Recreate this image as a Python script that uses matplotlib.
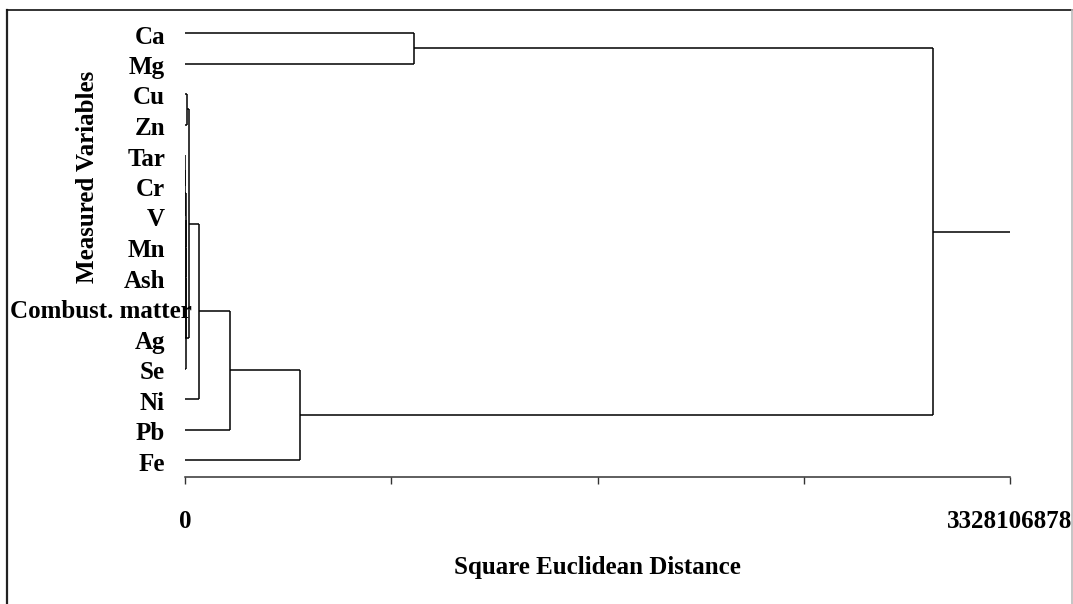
import matplotlib
matplotlib.use("Agg")
import matplotlib.pyplot as plt
import matplotlib.transforms as mtransforms
from matplotlib.lines import Line2D

# leaves in display order, top to bottom
variables = ["Ca", "Mg", "Cu", "Zn", "Tar", "Cr", "V", "Mn", "Ash",
             "Combust. matter", "Ag", "Se", "Ni", "Pb", "Fe"]

# agglomeration steps: (cluster a, cluster b, square euclidean distance)
# leaves are 0..14, each merge gets the next id starting at 15
merge_a = [4, 15, 16, 17, 18, 19, 20, 2, 22, 23, 24, 25, 0, 27]
merge_b = [5, 6, 7, 8, 9, 10, 11, 3, 21, 12, 13, 14, 1, 26]
merge_dist = [1.2e6, 1.8e6, 2.4e6, 3.0e6, 3.5e6, 4.1e6, 4.7e6,
              7.0e6, 1.6e7, 5.65e7, 1.82e8, 4.64e8, 9.24e8, 3.018e9]

dist_max = 3328106878
x_ticks = [0, dist_max * 0.25, dist_max * 0.5, dist_max * 0.75, dist_max]
x_ticklabels = ["0", "", "", "", "3328106878"]

plt.rcParams["font.family"] = ["Liberation Serif", "DejaVu Serif"]
plt.rcParams["font.weight"] = "bold"
FS = 18

W, H = 1073, 604
fig = plt.figure(figsize=(W / 100, H / 100), dpi=100)

# axes box in pixels: x 185..1010, y 10..477 (from top)
ax = fig.add_axes([185 / W, (H - 477) / H, (1010 - 185) / W, (477 - 10) / H])

pos = {i: float(i) for i in range(len(variables))}
height = {i: 0.0 for i in range(len(variables))}

lw = 1.1
for k, (a, b, d) in enumerate(zip(merge_a, merge_b, merge_dist)):
    new_id = len(variables) + k
    for c in (a, b):
        ax.plot([height[c], d], [pos[c], pos[c]], color="black", lw=lw,
                solid_capstyle="butt")
    ax.plot([d, d], [pos[a], pos[b]], color="black", lw=lw,
            solid_capstyle="butt")
    pos[new_id] = (pos[a] + pos[b]) / 2
    height[new_id] = d

# root stub runs out to the end of the axis
root = len(variables) + len(merge_dist) - 1
ax.plot([height[root], dist_max], [pos[root], pos[root]], color="black",
        lw=lw, solid_capstyle="butt")

# leaf i sits at pixel 33 + 30.5 * i
ax.set_ylim((477 - 33) / 30.5, (10 - 33) / 30.5)
ax.set_xlim(0, dist_max)
ax.set_yticks([])

for side in ("top", "right", "left"):
    ax.spines[side].set_visible(False)
ax.spines["bottom"].set_color("#333333")
ax.spines["bottom"].set_linewidth(1.1)

ax.set_xticks(x_ticks)
ax.set_xticklabels(x_ticklabels, fontsize=FS, fontweight="bold")
ax.tick_params(axis="x", direction="out", length=5, width=1, pad=19,
               color="#333333")
ax.set_xlabel("Square Euclidean Distance", fontsize=FS, fontweight="bold",
              labelpad=16)

# leaf labels; the long one is pushed right so it stays inside the frame
label_tf = mtransforms.offset_copy(
    mtransforms.blended_transform_factory(fig.transFigure, ax.transData),
    fig=fig, x=0, y=-4, units="dots")
for i, name in enumerate(variables):
    if len(name) > 6:
        fig.text(10 / W, i, name, ha="left", va="center", fontsize=FS,
                 fontweight="bold", transform=label_tf)
    else:
        fig.text(165 / W, i, name, ha="right", va="center", fontsize=FS,
                 fontweight="bold", transform=label_tf)

fig.text(88 / W, (H - 177) / H, "Measured Variables", rotation=90,
         ha="center", va="center", fontsize=FS, fontweight="bold")

# outer frame
fig.add_artist(Line2D([7 / W, 7 / W], [0, (H - 10) / H], color="#222222",
                      lw=1.6, transform=fig.transFigure))
fig.add_artist(Line2D([7 / W, 1072 / W], [(H - 10) / H, (H - 10) / H],
                      color="#111111", lw=1.2, transform=fig.transFigure))
fig.add_artist(Line2D([1072 / W, 1072 / W], [0, (H - 10) / H],
                      color="#bbbbbb", lw=1.2, transform=fig.transFigure))

fig.savefig("out.png", dpi=100)
